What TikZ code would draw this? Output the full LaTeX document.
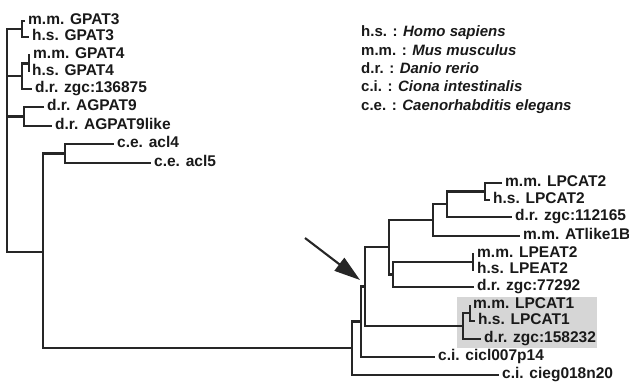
\documentclass[tikz,border=0pt]{standalone}
\usepackage{fontspec}
\setmainfont{Liberation Sans}
\usetikzlibrary{arrows.meta}
\begin{document}
\begin{tikzpicture}[x=1pt,y=-1pt,
  branch/.style={line width=2.1pt, draw=black!85, line join=miter},
  leaf/.style={anchor=west, inner xsep=3pt, inner ysep=0pt, font=\bfseries\fontsize{15.5}{15.5}\selectfont, text height=0.72em, text depth=0pt, text=black!90},
  legend/.style={anchor=west, inner sep=0pt, font=\bfseries\fontsize{15}{15}\selectfont, text height=0.72em, text depth=0pt, text=black!90}]
\useasboundingbox (0,0) rectangle (629,383);
% highlight box
\fill[fill={rgb,255:red,214;green,214;blue,214}] (457,297) rectangle (597,348);
% legend
\node[legend] (lg1) at (361,33) {h.s. : \textit{Homo sapiens}};
\node[legend] (lg2) at (361,52) {m.m. : \textit{Mus musculus}};
\node[legend] (lg3) at (361,70) {d.r. : \textit{Danio rerio}};
\node[legend] (lg4) at (361,88) {c.i. : \textit{Ciona intestinalis}};
\node[legend] (lg5) at (361,107) {c.e. : \textit{Caenorhabditis elegans}};
% left leaves
\node[leaf] (mmg3) at (25,21) {m.m. GPAT3};
\node[leaf] (hsg3) at (29,37) {h.s. GPAT3};
\node[leaf] (mmg4) at (30,55) {m.m. GPAT4};
\node[leaf] (hsg4) at (29,72) {h.s. GPAT4};
\node[leaf] (drz136) at (32,89) {d.r. zgc:136875};
\node[leaf] (dra9) at (44,107) {d.r. AGPAT9};
\node[leaf] (dra9l) at (52,126) {d.r. AGPAT9like};
\node[leaf] (acl4) at (114,144) {c.e. acl4};
\node[leaf] (acl5) at (151,163) {c.e. acl5};
% right leaves
\node[leaf] (mmlp2) at (502,183) {m.m. LPCAT2};
\node[leaf] (hslp2) at (490,200) {h.s. LPCAT2};
\node[leaf] (drz112) at (512,217) {d.r. zgc:112165};
\node[leaf] (atl) at (520,236) {m.m. ATlike1B};
\node[leaf] (mmle2) at (474,254) {m.m. LPEAT2};
\node[leaf] (hsle2) at (474,270) {h.s. LPEAT2};
\node[leaf] (drz772) at (474,287) {d.r. zgc:77292};
\node[leaf] (mmlc1) at (470,305) {m.m. LPCAT1};
\node[leaf] (hslc1) at (475,321) {h.s. LPCAT1};
\node[leaf] (drz158) at (481,339) {d.r. zgc:158232};
\node[leaf] (cicl) at (435,357) {c.i. cicl007p14};
\node[leaf] (cieg) at (499,375) {c.i. cieg018n20};
% internal nodes
\coordinate (g3) at (22,29);
\coordinate (g4) at (29,63.5);
\coordinate (g4z) at (22,76);
\coordinate (a9) at (24,116.5);
\coordinate (L1) at (7,252);
\coordinate (acl) at (65,153.5);
\coordinate (Root) at (43,252);
\coordinate (K) at (485,191.5);
\coordinate (Lp) at (447,204);
\coordinate (M) at (433,220);
\coordinate (P2) at (473,262);
\coordinate (N) at (393,274.5);
\coordinate (O) at (389,247);
\coordinate (C1) at (470,313);
\coordinate (C1z) at (463,326);
\coordinate (P) at (365,286.5);
\coordinate (Q) at (361,321.5);
\coordinate (R) at (352,348);
% left branches
\draw[branch] (mmg3.west) -| (g3) |- (hsg3.west);
\draw[branch] (mmg4.west) -| (g4) |- (hsg4.west);
\draw[branch] (g4) -| (g4z) |- (drz136.west);
\draw[branch] (dra9.west) -| (a9) |- (dra9l.west);
\draw[branch] (g3) -| (L1) -- (Root);
\draw[branch] (g4z) -- (g4z -| L1);
\draw[branch] (a9) -- (a9 -| L1);
\draw[branch] (acl4.west) -| (acl) |- (acl5.west);
\draw[branch] (acl) -| (Root) |- (R);
% right branches
\draw[branch] (mmlp2.west) -| (K) |- (hslp2.west);
\draw[branch] (K) -| (Lp) |- (drz112.west);
\draw[branch] (Lp) -| (M) |- (atl.west);
\draw[branch] (mmle2.west) -| (P2) |- (hsle2.west);
\draw[branch] (P2) -| (N) |- (drz772.west);
\draw[branch] (M) -| (O) |- (N);
\draw[branch] (mmlc1.west) -| (C1) |- (hslc1.west);
\draw[branch] (C1) -| (C1z) |- (drz158.west);
\draw[branch] (O) -| (P) |- (C1z);
\draw[branch] (P) -| (Q) |- (cicl.west);
\draw[branch] (Q) -| (R) |- (cieg.west);
% arrow
\coordinate (arrowtail) at (305,238);
\coordinate (arrowtip) at (360,280);
\draw[line width=2.1pt, draw=black!85, -{Triangle[length=26pt,width=16pt]}] (arrowtail) -- (arrowtip);
\end{tikzpicture}
\end{document}
